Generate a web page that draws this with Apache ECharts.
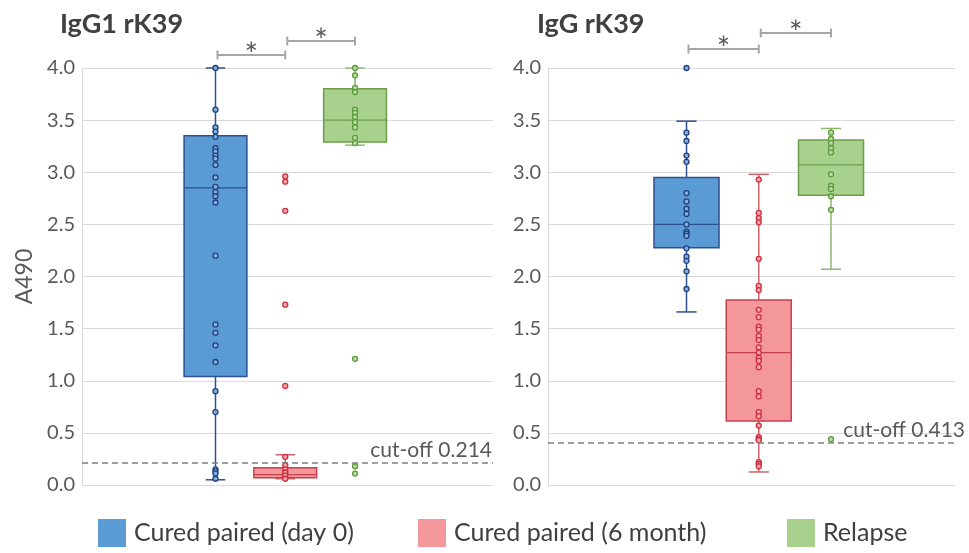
<!DOCTYPE html>
<html>
<head>
<meta charset="utf-8">
<script src="https://cdn.jsdelivr.net/npm/echarts@6/dist/echarts.min.js"></script>
<style>html,body{margin:0;padding:0;background:#fff}#c{width:969px;height:553px}</style>
</head>
<body>
<div id="c"></div>
<script>
// ---- data ----
const categories = ['Cured paired (day 0)', 'Cured paired (6 month)', 'Relapse'];
const panelTitles = ['IgG1 rK39', 'IgG rK39'];
const yAxisName = 'A490';
const yMin = 0, yMax = 4, yStep = 0.5;
const cutoffs = [0.214, 0.413];
// box stats: [min, Q1, median, Q3, max]
const boxIgG1 = [
  [0.05, 1.04, 2.85, 3.35, 4.0],
  [0.06, 0.07, 0.10, 0.165, 0.29],
  [3.26, 3.29, 3.50, 3.80, 4.0]
];
const boxIgG = [
  [1.66, 2.275, 2.50, 2.95, 3.49],
  [0.125, 0.615, 1.27, 1.775, 2.98],
  [2.07, 2.78, 3.07, 3.31, 3.42]
];
// individual points
const ptsIgG1Day0 = [4.0, 3.60, 3.43, 3.39, 3.34, 3.23, 3.20, 3.16, 3.13, 3.07, 2.95, 2.86, 2.81, 2.77, 2.71, 2.20, 1.54, 1.46, 1.34, 1.18, 0.90, 0.70, 0.15, 0.13, 0.11, 0.06];
const ptsIgG1Month6 = [2.96, 2.91, 2.63, 1.73, 0.95, 0.27, 0.19, 0.15, 0.12, 0.09, 0.06];
const ptsIgG1Relapse = [4.0, 3.93, 3.81, 3.77, 3.60, 3.57, 3.53, 3.48, 3.43, 3.33, 3.28, 1.21, 0.18, 0.11];
const ptsIgGDay0 = [4.0, 3.38, 3.30, 3.16, 3.10, 2.80, 2.72, 2.65, 2.60, 2.50, 2.43, 2.41, 2.39, 2.27, 2.19, 2.15, 2.05, 1.88];
const ptsIgGMonth6 = [2.93, 2.61, 2.56, 2.52, 2.17, 1.91, 1.87, 1.68, 1.61, 1.52, 1.49, 1.43, 1.39, 1.32, 1.27, 1.22, 1.19, 1.13, 0.90, 0.85, 0.70, 0.66, 0.57, 0.46, 0.44, 0.43, 0.22, 0.20, 0.18];
const ptsIgGRelapse = [3.38, 3.32, 3.28, 3.23, 3.19, 2.98, 2.87, 2.84, 2.77, 2.64, 0.44];
// significance comparisons (category index pairs)
const sigPairs = [[0, 1], [1, 2]];
const sigLabel = '*';

// ---- styles ----
const FONT = 'Lato';
const fills = ['#5b9bd5', '#f4979b', '#a9d18e'];
const strokes = ['#2f4f8f', '#c4424d', '#6c9e4a'];
const whiskers = ['#2f4f8f', '#d0646b', '#8ab96c'];
const dotRing = ['#22407e', '#cc2f3f', '#5c9a3c'];
const dotFill = ['#7fb0e0', '#f6a5a9', '#b9dca2'];

const panels = [
  { box: boxIgG1, pts: [ptsIgG1Day0, ptsIgG1Month6, ptsIgG1Relapse], grid: { left: 82, right: 476, top: 68, bottom: 68 }, xMin: -0.913, xMax: 4.977, titleLeft: 55, sigOff: [13, 27], cutDist: [1, 2] },
  { box: boxIgG, pts: [ptsIgGDay0, ptsIgGMonth6, ptsIgGRelapse], grid: { left: 548, right: 14, top: 68, bottom: 68 }, xMin: -0.917, xMax: 4.716, titleLeft: 532, sigOff: [19, 35], cutDist: [-10, 2] }
];

const grids = [], xAxes = [], yAxes = [], series = [], titles = [];
panels.forEach((p, pi) => {
  grids.push(p.grid);
  xAxes.push({ type: 'value', gridIndex: pi, min: p.xMin, max: p.xMax, show: false });
  yAxes.push({
    type: 'value', gridIndex: pi, min: yMin, max: yMax, interval: yStep,
    name: pi === 0 ? yAxisName : '', nameLocation: 'middle', nameGap: 46,
    nameTextStyle: { fontSize: 23, color: '#595959', fontFamily: FONT },
    axisLine: { show: true, onZero: false, lineStyle: { color: '#d9d9d9', width: 1 } },
    axisTick: { show: false },
    axisLabel: { fontSize: 20, color: '#595959', fontFamily: FONT, margin: 7, formatter: v => v.toFixed(1) },
    splitLine: { lineStyle: { color: '#d9d9d9', width: 1 } }
  });
  titles.push({ text: panelTitles[pi], left: p.titleLeft, top: 6, textStyle: { fontSize: 27, fontWeight: 'bold', color: '#404040', fontFamily: FONT } });

  // boxes
  series.push({
    type: 'custom', xAxisIndex: pi, yAxisIndex: pi, silent: true, z: 2,
    data: p.box.map((b, k) => [k + 1].concat(b)),
    encode: { x: 0, y: [1, 2, 3, 4, 5] },
    renderItem: function (params, api) {
      const k = params.dataIndex;
      const x = api.value(0);
      const v = [1, 2, 3, 4, 5].map(i => api.value(i));
      const pt = v.map(val => api.coord([x, val]));
      const c = pt[0][0];
      const hw = 0.45, cw = 0.14;
      const L = api.coord([x - hw, 0])[0], R = api.coord([x + hw, 0])[0];
      const cl = api.coord([x - cw, 0])[0], cr = api.coord([x + cw, 0])[0];
      const ws = { stroke: whiskers[k], lineWidth: 1.5 };
      return {
        type: 'group', children: [
          { type: 'line', shape: { x1: c, y1: pt[0][1], x2: c, y2: pt[1][1] }, style: ws },
          { type: 'line', shape: { x1: c, y1: pt[3][1], x2: c, y2: pt[4][1] }, style: ws },
          { type: 'line', shape: { x1: cl, y1: pt[0][1], x2: cr, y2: pt[0][1] }, style: ws },
          { type: 'line', shape: { x1: cl, y1: pt[4][1], x2: cr, y2: pt[4][1] }, style: ws },
          { type: 'rect', shape: { x: L, y: pt[3][1], width: R - L, height: pt[1][1] - pt[3][1] }, style: { fill: fills[k], stroke: strokes[k], lineWidth: 1.5 } },
          { type: 'line', shape: { x1: L, y1: pt[2][1], x2: R, y2: pt[2][1] }, style: { stroke: strokes[k], lineWidth: 1.3 } }
        ]
      };
    }
  });

  // points
  categories.forEach((cat, k) => {
    const s = {
      type: 'scatter', name: cat, xAxisIndex: pi, yAxisIndex: pi, z: 3, silent: true,
      symbol: 'circle', symbolSize: 5,
      itemStyle: { color: dotFill[k], borderColor: dotRing[k], borderWidth: 1.3, opacity: 1 },
      data: p.pts[k].map(v => [k + 1, v])
    };
    if (k === 0) {
      s.markLine = {
        silent: true, symbol: ['none', 'none'], animation: false,
        lineStyle: { color: '#7f7f7f', type: [6, 4], width: 1.5 },
        label: { position: 'insideEndTop', formatter: 'cut-off ' + cutoffs[pi], fontSize: 21, color: '#595959', fontFamily: FONT, distance: p.cutDist },
        data: [{ yAxis: cutoffs[pi] }]
      };
    }
    series.push(s);
  });

  // significance brackets
  series.push({
    type: 'custom', xAxisIndex: pi, yAxisIndex: pi, silent: true, clip: false, z: 4,
    data: sigPairs.map((sp, i) => [sp[0] + 1, sp[1] + 1, i]),
    renderItem: function (params, api) {
      const a = api.coord([api.value(0), yMax])[0] + 2;
      const b = api.coord([api.value(1), yMax])[0];
      const top = api.coord([api.value(0), yMax])[1];
      const y = top - p.sigOff[api.value(2)];
      const st = { stroke: '#a6a6a6', lineWidth: 2 };
      return {
        type: 'group', children: [
          { type: 'line', shape: { x1: a, y1: y, x2: b, y2: y }, style: st },
          { type: 'line', shape: { x1: a, y1: y - 4.5, x2: a, y2: y + 4.5 }, style: st },
          { type: 'line', shape: { x1: b, y1: y - 4.5, x2: b, y2: y + 4.5 }, style: st },
          { type: 'text', x: (a + b) / 2, y: y + 1, style: { text: sigLabel, fontSize: 32, fill: '#595959', fontFamily: FONT, align: 'center', verticalAlign: 'middle' } }
        ]
      };
    }
  });
});

const legendLefts = [98, 418, 787];
const legends = categories.map((c, i) => ({
  data: [{ name: c, itemStyle: { color: fills[i], borderWidth: 0 } }],
  left: legendLefts[i], top: 519, icon: 'rect', itemWidth: 28, itemHeight: 28,
  selectedMode: false, padding: 0,
  textStyle: { fontSize: 25, color: '#404040', fontFamily: FONT, padding: [0, 0, 0, 3] }
}));

const chart = echarts.init(document.getElementById('c'));
chart.setOption({
  animation: false,
  backgroundColor: '#fff',
  title: titles,
  legend: legends,
  grid: grids,
  xAxis: xAxes,
  yAxis: yAxes,
  series: series
});
</script>
</body>
</html>
